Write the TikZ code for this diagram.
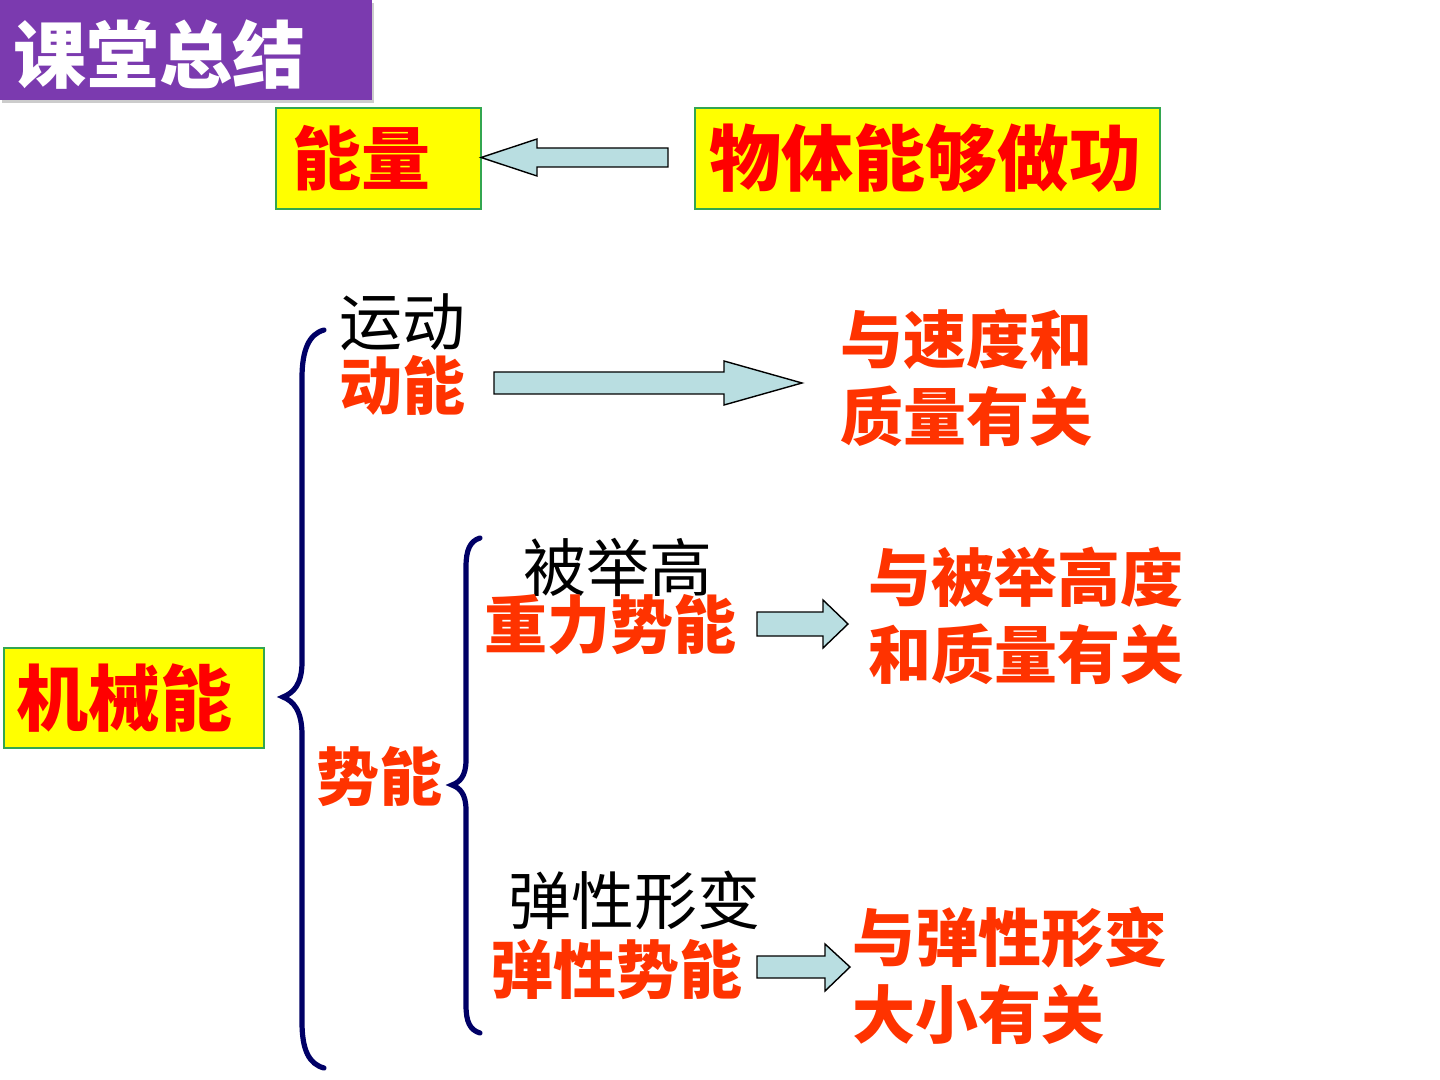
\documentclass[tikz,border=0pt]{standalone}
\usepackage{fontspec}
\newfontfamily\cjk{Noto Sans CJK SC}
\usetikzlibrary{shadows}
\definecolor{boxred}{HTML}{FF0000}
\definecolor{orng}{HTML}{FF3300}
\definecolor{ylw}{HTML}{FFFF00}
\definecolor{grn}{HTML}{33A650}
\definecolor{arrfill}{HTML}{B9DEE1}
\definecolor{navy}{HTML}{000066}
\definecolor{purp}{HTML}{7B3AAF}
\tikzset{
  ybox/.style={draw=grn, line width=0.6pt, fill=ylw, inner sep=0pt},
  bigtxt/.style={inner sep=0pt, font=\cjk\bfseries\fontsize{36}{40}\selectfont, text=boxred},
  redtxt/.style={inner sep=0pt, font=\cjk\bfseries\fontsize{31.5}{38.5}\selectfont, text=orng, align=left},
  blktxt/.style={inner sep=0pt, font=\cjk\fontsize{31.5}{38.5}\selectfont, text=black},
  blockarrow/.style={draw=black, line width=0.7pt, fill=arrfill, line join=miter},
  bracepath/.style={draw=navy, line width=2.6pt, line cap=round}
}
\begin{document}
\begin{tikzpicture}[x=0.5pt,y=-0.5pt]
\useasboundingbox (0,0) rectangle (1440,1080);
% title
\node[fill=purp, minimum width=186pt, minimum height=50pt, inner sep=0pt, drop shadow={shadow xshift=1pt,shadow yshift=-1.5pt,opacity=0.4}] (titlebox) at (186,50) {};
\node[inner sep=0pt, font=\cjk\bfseries\fontsize{36.5}{40}\selectfont, text=white] (title) at (159,55) {课堂总结};
% top boxes
\node[ybox, minimum width=102.5pt, minimum height=50.5pt] (energy) at (378.5,158.5) {};
\node[bigtxt, font=\cjk\bfseries\fontsize{34.5}{40}\selectfont] (energyt) at (361.5,158) {能量};
\node[ybox, minimum width=232.5pt, minimum height=50.5pt] (work) at (927.5,158.5) {};
\node[bigtxt] (workt) at (925,158) {物体能够做功};
\path[blockarrow] (481,157.5) -- (537,139) -- (537,148) -- (668,148) -- (668,167) -- (537,167) -- (537,176) -- cycle;
% mechanical energy
\node[ybox, minimum width=130pt, minimum height=50pt] (mech) at (134,698) {};
\node[bigtxt] (mecht) at (125,698) {机械能};
% big brace
\path[bracepath] (324,330) .. controls (309,334) and (302,350) .. (302,378) -- (302,662) .. controls (302,685) and (293,693) .. (283,697) .. controls (293,701) and (302,710) .. (302,735) -- (302,1022) .. controls (302,1050) and (309,1064) .. (324,1068);
% kinetic
\node[blktxt] (yd) at (402,322) {运动};
\node[redtxt] (dn) at (402,385) {动能};
\path[blockarrow] (494,372) -- (724,372) -- (724,361) -- (802,383) -- (724,405) -- (724,394) -- (494,394) -- cycle;
\node[redtxt, anchor=west] (r1) at (840,378) {与速度和\\质量有关};
% potential
\node[redtxt] (sn) at (379,777) {势能};
\path[bracepath] (480,538) .. controls (470,541) and (466,550) .. (466,567) -- (466,760) .. controls (466,776) and (460,782) .. (452,785) .. controls (460,788) and (466,794) .. (466,810) -- (466,1005) .. controls (466,1022) and (470,1030) .. (480,1033);
% gravitational
\node[blktxt] (bjg) at (618,567) {被举高};
\node[redtxt] (zl) at (610,625) {重力势能};
\path[blockarrow] (757,612) -- (823,612) -- (823,600) -- (848,624) -- (823,648) -- (823,636) -- (757,636) -- cycle;
\node[redtxt, anchor=west] (r2) at (868,616) {与被举高度\\和质量有关};
% elastic
\node[blktxt] (tx) at (634,900) {弹性形变};
\node[redtxt] (tn) at (616,970) {弹性势能};
\path[blockarrow] (757,956) -- (825,956) -- (825,944) -- (850,967) -- (825,991) -- (825,978) -- (757,978) -- cycle;
\node[redtxt, anchor=west] (r3) at (852,976) {与弹性形变\\大小有关};
\end{tikzpicture}
\end{document}
